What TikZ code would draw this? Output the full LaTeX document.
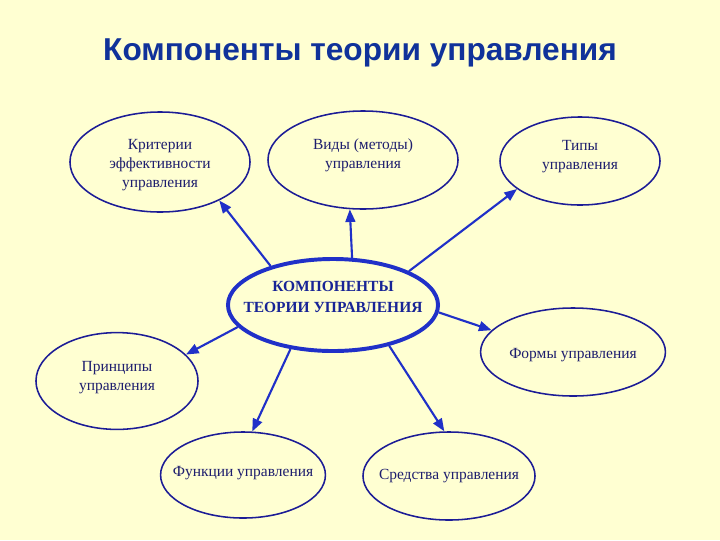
\documentclass[tikz,border=0pt]{standalone}
\usepackage{fontspec}
\setmainfont{Liberation Serif}
\newfontfamily\titlefont{Liberation Sans}
\usetikzlibrary{arrows.meta,shapes.geometric}
\definecolor{bgyellow}{HTML}{FFFFD2}
\definecolor{rimblue}{HTML}{1C1C96}
\definecolor{arrowblue}{HTML}{2030C8}
\definecolor{textnavy}{HTML}{1E1E6E}
\definecolor{titleblue}{HTML}{10329A}

\begin{document}
\begin{tikzpicture}[
  x=0.025cm, y=-0.025cm,
  part/.style={ellipse, draw=rimblue, line width=1.1pt, inner sep=0pt},
  caption/.style={align=center, inner sep=0pt, text=textnavy,
    font=\fontsize{11}{13.5}\selectfont},
  hub/.style={ellipse, draw=arrowblue, line width=2.8pt, inner sep=0pt},
  hubcaption/.style={align=center, inner sep=0pt, text=arrowblue!75!black,
    font=\fontsize{11}{15}\selectfont\bfseries},
  link/.style={draw=arrowblue, line width=1.5pt, -{Triangle[length=9pt,width=7pt]}}
]
  \fill[bgyellow] (0,0) rectangle (720,540);
  \useasboundingbox (0,0) rectangle (720,540);

  \node[font=\titlefont\fontsize{22.5}{26}\selectfont\bfseries, text=titleblue] (title) at (360,53)
    {Компоненты теории управления};

  \node[hub, minimum width=5.25cm, minimum height=2.3cm,
    label={[hubcaption, shift={(0,-8)}]center:КОМПОНЕНТЫ\\ТЕОРИИ УПРАВЛЕНИЯ}] (C) at (333,305) {};

  \node[part, minimum width=4.5cm, minimum height=2.5cm,
    label={[caption, shift={(0,3)}]center:Критерии\\эффективности\\управления}] (krit) at (160,162) {};
  \node[part, minimum width=4.75cm, minimum height=2.45cm,
    label={[caption, shift={(0,-5)}]center:Виды (методы)\\управления}] (vidy) at (363,160) {};
  \node[part, minimum width=4cm, minimum height=2.2cm,
    label={[caption, shift={(0,-4)}]center:Типы\\управления}] (tipy) at (580,161) {};
  \node[part, minimum width=4.05cm, minimum height=2.42cm,
    label={[caption, shift={(0,-3)}]center:Принципы\\управления}] (princ) at (117,381) {};
  \node[part, minimum width=4.62cm, minimum height=2.2cm,
    label={[caption, shift={(0,3)}]center:Формы управления}] (formy) at (573,352) {};
  \node[part, minimum width=4.12cm, minimum height=2.15cm,
    label={[caption, shift={(0,-2)}]center:Функции управления}] (funk) at (243,475) {};
  \node[part, minimum width=4.3cm, minimum height=2.2cm,
    label={[caption]center:Средства управления}] (sredst) at (449,476) {};

  \draw[link] (C.148) -- (krit.-33);
  \draw[link] (C.68) -- (vidy.-105);
  \draw[link] (C.24) -- (tipy.-156);
  \draw[link] (C.-4) -- (formy.165);
  \draw[link] (C.-167) -- (princ.21);
  \draw[link] (C.-134) -- (funk.78);
  \draw[link] (C.-36) -- (sredst.96);
\end{tikzpicture}
\end{document}
